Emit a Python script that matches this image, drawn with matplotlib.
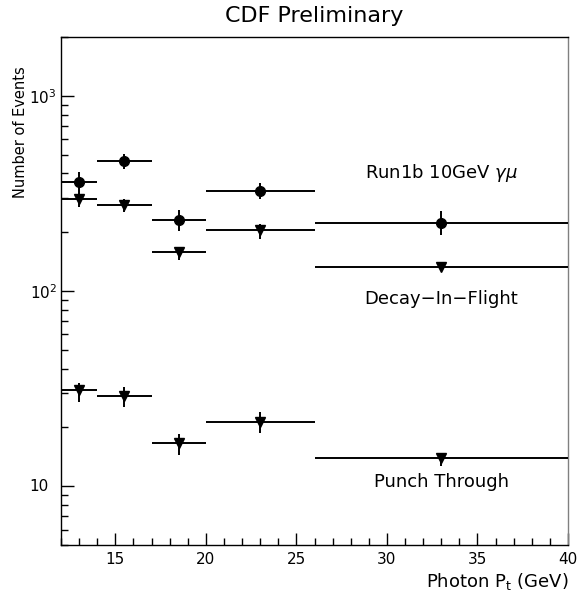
import numpy as np
import matplotlib
matplotlib.use("Agg")
import matplotlib.pyplot as plt
import matplotlib.transforms as mtransforms
from matplotlib.ticker import FixedLocator, FuncFormatter, LogLocator, NullFormatter, MultipleLocator

plt.rcParams['font.family'] = ['DejaVu Sans']
plt.rcParams['mathtext.fontset'] = 'dejavusans'

# photon pt bins
pt_center = [13, 15.5, 18.5, 23, 33]
pt_halfw = [1, 1.5, 1.5, 3, 7]

# Run1b 10GeV gamma-mu (circles)
run1b = [363, 465, 232, 326, 224]
run1b_up = [409, 505, 260, 359, 257]
run1b_dn = [322, 423, 203, 296, 194]

# Decay-In-Flight (triangles)
dif = [295, 276, 159, 206, 133]
dif_up = [320, 295, 169, 221, 137]
dif_dn = [270, 255, 144, 185, 129]

# Punch Through (triangles)
punch = [31.0, 28.9, 16.6, 21.4, 14.0]
punch_up = [33.9, 32.1, 18.6, 23.9, 14.7]
punch_dn = [27.0, 25.5, 14.5, 18.8, 12.7]

fig = plt.figure(figsize=(5.88, 5.97), dpi=100)
ax = fig.add_axes([61/588, 1-545/597, 507/588, 508/597])

def draw(vals, up, dn, marker, ms):
    v = np.array(vals)
    yerr = [v - np.array(dn), np.array(up) - v]
    ax.errorbar(pt_center, v, xerr=pt_halfw, yerr=yerr, fmt=marker, ms=ms,
                color='black', ecolor='black', elinewidth=1.4, capsize=0, zorder=3)

draw(run1b, run1b_up, run1b_dn, 'o', 7)
draw(dif, dif_up, dif_dn, 'v', 7)
draw(punch, punch_up, punch_dn, 'v', 7)

ax.set_yscale('log')
ax.set_xlim(12, 40)
ax.set_ylim(5, 2000)

ax.xaxis.set_major_locator(MultipleLocator(5))
ax.xaxis.set_minor_locator(MultipleLocator(1))
ax.yaxis.set_major_locator(FixedLocator([10, 100, 1000]))
ax.yaxis.set_minor_locator(LogLocator(base=10, subs=np.arange(2, 10)))
ax.yaxis.set_minor_formatter(NullFormatter())

def ylab(v, pos):
    if v == 10:
        return ''
    return r'$10^{%d}$' % int(round(np.log10(v)))
ax.yaxis.set_major_formatter(FuncFormatter(ylab))
# plain "10" sits a little further left, like the base of 10^n
trans = mtransforms.blended_transform_factory(ax.transAxes, ax.transData)
ax.text(-0.025, 10, '10', transform=trans, ha='right', va='center', fontsize=11)

ax.tick_params(which='both', direction='in', top=False, right=False, labelsize=11, width=1)
ax.tick_params(axis='x', which='major', length=9, pad=5)
ax.tick_params(axis='x', which='minor', length=5)
ax.tick_params(axis='y', which='major', length=9, pad=3)
ax.tick_params(axis='y', which='minor', length=5)
ax.spines['right'].set_color('gray')
for s in ax.spines.values():
    s.set_linewidth(1)

ax.text(33, 400, r'Run1b 10GeV $\gamma\mu$', ha='center', va='center', fontsize=13)
ax.text(33, 91, 'Decay\u2212In\u2212Flight', ha='center', va='center', fontsize=13)
ax.text(33, 10.5, 'Punch Through', ha='center', va='center', fontsize=13)

fig.text(314/588, 1-16/597, 'CDF Preliminary', ha='center', va='center', fontsize=16)
fig.text(21/588, 1-66/597, 'Number of Events', rotation=90, ha='center', va='top', fontsize=10.5)
fig.text(568/588, 1-581/597, r'Photon P$_{\rm t}$ (GeV)', ha='right', va='center', fontsize=13)

fig.savefig('out.png', dpi=100)
